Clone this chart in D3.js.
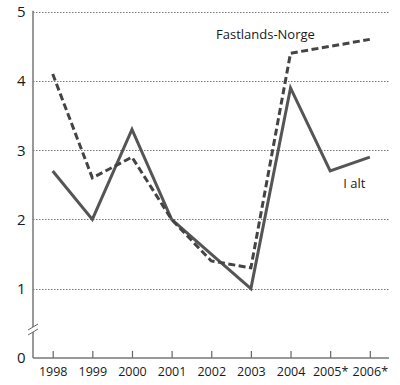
<!DOCTYPE html>
<html>
<head>
<meta charset="utf-8">
<script src="https://cdn.jsdelivr.net/npm/d3@7"></script>
<style>
  body { margin: 0; background: #fff; }
  text { font-family: "Open Sans", sans-serif; fill: #1a1a1a; }
</style>
</head>
<body>
<script>
var years = ["1998", "1999", "2000", "2001", "2002", "2003", "2004", "2005*", "2006*"];
var iAlt = [2.7, 2.0, 3.3, 2.0, 1.5, 1.0, 3.9, 2.7, 2.9];
var fastlands = [4.1, 2.6, 2.9, 2.0, 1.4, 1.3, 4.4, 4.5, 4.6];
var yTicks = [0, 1, 2, 3, 4, 5];

var width = 400, height = 385;
var plotLeft = 33, plotRight = 389, plotTop = 11.7, plotBottom = 357.9;

var svg = d3.select("body").append("svg")
  .attr("width", width)
  .attr("height", height);

var x = d3.scalePoint().domain(years).range([52.7, 369.8]);
var y = d3.scaleLinear().domain([0, 5]).range([plotBottom, plotTop]);

// gridlines
svg.append("g")
  .selectAll("line")
  .data(yTicks.filter(function (d) { return d > 0; }))
  .enter()
  .append("line")
  .attr("x1", plotLeft)
  .attr("x2", plotRight)
  .attr("y1", function (d) { return Math.round(y(d)) + 0.5; })
  .attr("y2", function (d) { return Math.round(y(d)) + 0.5; })
  .style("stroke", "#777")
  .style("stroke-width", 1)
  .style("stroke-dasharray", "1.5,1.5");

// y labels
svg.append("g")
  .selectAll("text")
  .data(yTicks)
  .enter()
  .append("text")
  .attr("x", 25.5)
  .attr("y", function (d) { return y(d) + 5.5; })
  .attr("text-anchor", "end")
  .style("font-size", "15px")
  .text(function (d) { return d; });

// x axis
var xAxis = d3.axisBottom(x).tickSize(-7).tickPadding(9.5);
var gx = svg.append("g")
  .attr("transform", "translate(0," + plotBottom + ")")
  .call(xAxis);
gx.select(".domain").remove();
gx.selectAll(".tick line").style("stroke", "#666").style("stroke-width", 1.2);
gx.selectAll(".tick text").style("font-size", "12.5px").style("fill", "#1a1a1a")
  .attr("font-family", "Open Sans, sans-serif");

svg.append("line")
  .attr("x1", plotLeft).attr("x2", plotRight)
  .attr("y1", plotBottom).attr("y2", plotBottom)
  .style("stroke", "#777").style("stroke-width", 1.5);

// y axis
svg.append("line")
  .attr("x1", plotLeft).attr("x2", plotLeft)
  .attr("y1", plotTop - 1).attr("y2", plotBottom)
  .style("stroke", "#777").style("stroke-width", 1.5);

// axis break
svg.append("rect")
  .attr("x", plotLeft - 3).attr("y", 327).attr("width", 6).attr("height", 5)
  .style("fill", "#fff");
[327, 332].forEach(function (yy) {
  svg.append("line")
    .attr("x1", plotLeft - 5).attr("x2", plotLeft + 5)
    .attr("y1", yy + 3).attr("y2", yy - 3)
    .style("stroke", "#666").style("stroke-width", 1);
});

var line = d3.line()
  .x(function (d, i) { return x(years[i]); })
  .y(function (d) { return y(d); });

svg.append("path")
  .datum(iAlt)
  .attr("d", line)
  .style("fill", "none")
  .style("stroke", "#555")
  .style("stroke-width", 3)
  .style("stroke-linejoin", "miter");

svg.append("path")
  .datum(fastlands)
  .attr("d", line)
  .style("fill", "none")
  .style("stroke", "#444")
  .style("stroke-width", 3)
  .style("stroke-dasharray", "7,3.5");

svg.append("text")
  .attr("x", 216).attr("y", 39)
  .style("font-size", "13px")
  .text("Fastlands-Norge");

svg.append("text")
  .attr("x", 343.3).attr("y", 188)
  .style("font-size", "13px")
  .text("I alt");
</script>
</body>
</html>
